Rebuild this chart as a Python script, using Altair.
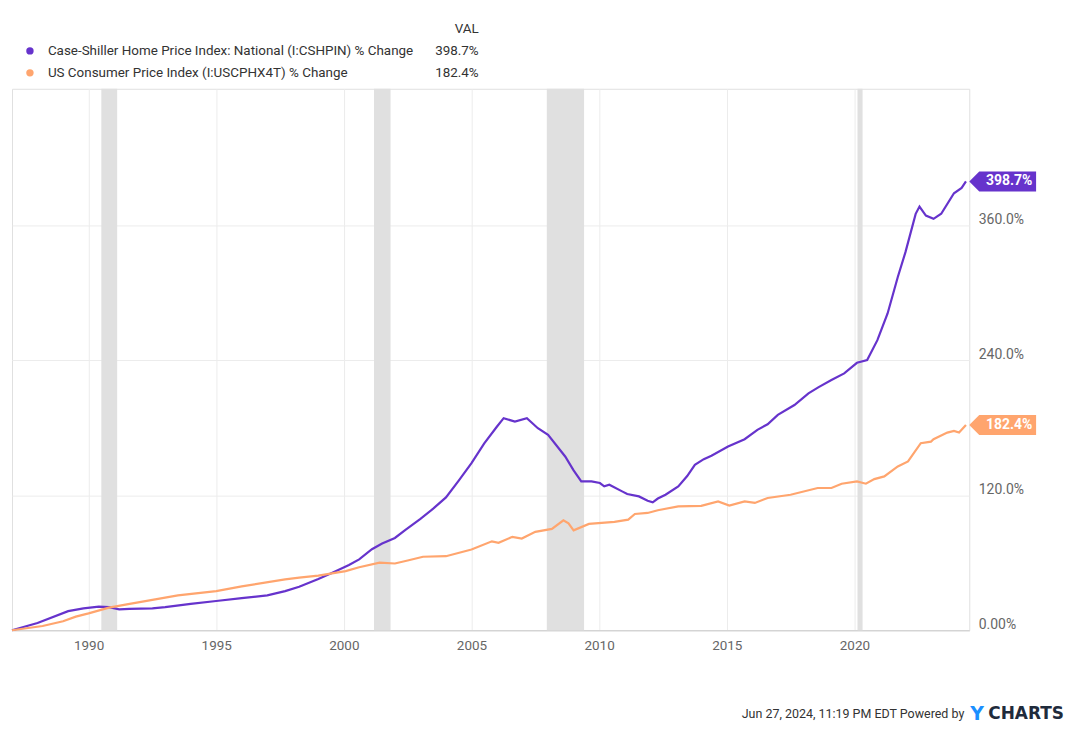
import altair as alt
import pandas as pd

# ---------------- data ----------------
cs_years = [1987.0, 1988.0, 1989.2, 1989.8, 1990.4, 1990.8, 1991.2, 1991.6, 1992.5, 1993.0,
            1994.0, 1995.0, 1996.0, 1997.0, 1997.7, 1998.25, 1999.0, 1999.55, 2000.2, 2000.6,
            2001.1, 2001.5, 2002.0, 2002.4, 2003.0, 2003.5, 2004.0, 2004.5, 2005.0, 2005.5,
            2006.0, 2006.26, 2006.7, 2007.17, 2007.6, 2008.0, 2008.67, 2009.0, 2009.3, 2009.7,
            2010.03, 2010.2, 2010.4, 2010.9, 2011.1, 2011.56, 2011.9, 2012.1, 2012.3, 2012.6,
            2013.1, 2013.45, 2013.75, 2014.1, 2014.4, 2015.05, 2015.7, 2016.2, 2016.6, 2017.0,
            2017.65, 2018.2, 2018.6, 2019.1, 2019.6, 2020.1, 2020.5, 2020.9, 2021.3, 2021.7,
            2022.0, 2022.4, 2022.55, 2022.8, 2023.1, 2023.4, 2023.9, 2024.2, 2024.37]
cs_vals = [0.0, 6.5, 17.0, 19.5, 21.0, 20.5, 18.6, 19.0, 19.5, 20.5,
           23.5, 26.0, 28.5, 31.0, 34.8, 38.7, 45.5, 51.1, 58.0, 63.0,
           72.0, 77.0, 82.0, 89.0, 99.0, 108.0, 118.0, 133.0, 148.5, 166.0,
           181.0, 188.4, 185.4, 188.4, 179.5, 173.6, 154.4, 142.0, 132.2, 132.2,
           130.8, 127.8, 129.3, 123.4, 121.0, 118.9, 115.0, 113.6, 117.0, 120.4,
           127.8, 137.0, 147.0, 152.0, 155.0, 163.2, 169.7, 178.0, 183.0, 191.3,
           200.1, 210.5, 216.0, 222.3, 228.2, 237.6, 240.0, 257.7, 281.4, 313.8,
           335.9, 369.9, 376.4, 368.4, 365.5, 370.0, 388.2, 392.9, 398.7]

cpi_years = [1987.0, 1988.2, 1989.0, 1989.5, 1990.0, 1990.8, 1991.5, 1992.5, 1993.5, 1995.0,
             1996.0, 1997.7, 1998.25, 1999.0, 2000.07, 2000.6, 2001.4, 2002.0, 2002.5, 2003.1,
             2004.0, 2005.0, 2005.8, 2006.06, 2006.6, 2006.97, 2007.5, 2008.15, 2008.6, 2008.8,
             2009.0, 2009.6, 2010.6, 2011.14, 2011.4, 2011.9, 2012.3, 2013.1, 2014.0, 2014.66,
             2015.1, 2015.7, 2016.1, 2016.6, 2017.5, 2018.56, 2019.1, 2019.5, 2020.1, 2020.45,
             2020.78, 2021.17, 2021.7, 2022.1, 2022.6, 2023.0, 2023.1, 2023.64, 2023.9, 2024.1,
             2024.37]
cpi_vals = [0.0, 3.8, 8.0, 12.1, 15.0, 20.1, 23.0, 27.0, 31.0, 34.8,
            39.0, 45.2, 46.7, 48.5, 52.5, 56.0, 60.0, 59.3, 62.0, 65.3,
            65.8, 71.7, 79.0, 77.7, 83.0, 81.5, 87.4, 90.0, 97.7, 95.0,
            88.8, 94.5, 96.3, 98.3, 103.3, 104.2, 106.6, 110.1, 110.5, 114.5,
            110.7, 114.5, 113.1, 117.5, 120.4, 126.4, 126.4, 130.2, 132.2, 130.2,
            134.3, 136.7, 145.5, 150.0, 166.2, 167.6, 169.7, 175.6, 177.1, 175.6,
            182.4]

series_names = ["Case-Shiller Home Price Index: National (I:CSHPIN) % Change",
                "US Consumer Price Index (I:USCPHX4T) % Change"]
series_last = ["398.7%", "182.4%"]
series_colors = ["#6633cc", "#ffa56e"]

rec_start = [1990.5, 2001.18, 2007.95, 2020.12]
rec_end = [1991.12, 2001.83, 2009.41, 2020.32]

x_ticks = [1990, 1995, 2000, 2005, 2010, 2015, 2020]
y_ticks = [0, 120, 240, 360]

footer_text = "Jun 27, 2024, 11:19 PM EDT Powered by"
logo_y = "Y"
logo_rest = "CHARTS"
header_text = "VAL"

# ---------------- tables ----------------
lines_df = pd.concat([
    pd.DataFrame({"year": cs_years, "val": cs_vals, "series": series_names[0]}),
    pd.DataFrame({"year": cpi_years, "val": cpi_vals, "series": series_names[1]}),
])
last_df = pd.DataFrame({
    "year": [cs_years[-1], cpi_years[-1]],
    "val": [cs_vals[-1], cpi_vals[-1]],
    "series": series_names,
    "label": series_last,
})
rec_df = pd.DataFrame({"start": rec_start, "end": rec_end})

W, H = 960, 543
FONT = "Roboto"

xs = alt.Scale(domain=[1987.0, 2024.5], nice=False, zero=False)
ys = alt.Scale(domain=[0, 481], nice=False)
cs = alt.Scale(domain=series_names, range=series_colors)

rec = alt.Chart(rec_df).mark_rect(color="#e0e0e0").encode(
    x=alt.X("start:Q", scale=xs,
            axis=alt.Axis(values=x_ticks, format="d", title=None, grid=True,
                          gridColor="#ececec", ticks=False, labelPadding=8,
                          labelFontSize=13.5, labelColor="#666666", labelFont=FONT,
                          domainColor="#cccccc")),
    x2="end:Q",
    y=alt.value(0),
    y2=alt.value(H),
)

lines = alt.Chart(lines_df).mark_line(strokeWidth=2.2).encode(
    x=alt.X("year:Q", scale=xs),
    y=alt.Y("val:Q", scale=ys,
            axis=alt.Axis(orient="right", values=y_ticks, title=None, grid=True,
                          gridColor="#ececec", ticks=False, domain=False,
                          labelAlign="left", labelBaseline="alphabetic",
                          labelOffset=-2,
                          labelPadding=9, labelFontSize=14, labelColor="#666666",
                          labelFont=FONT,
                          labelExpr="datum.value == 0 ? '0.00%' : format(datum.value, '.1f') + '%'")),
    color=alt.Color("series:N", scale=cs, legend=None),
)

tag_shape = "M0,0 L1,-1 L6.7,-1 L6.7,1 L1,1 Z"
tags = alt.Chart(last_df).mark_point(shape=tag_shape, filled=True, size=400,
                                     opacity=1, strokeWidth=0, clip=False).encode(
    x=alt.value(W),
    y=alt.Y("val:Q", scale=ys),
    color=alt.Color("series:N", scale=cs, legend=None),
)
tag_text = alt.Chart(last_df).mark_text(color="white", font=FONT, fontSize=14,
                                        fontWeight="bold", align="center",
                                        baseline="middle", clip=False).encode(
    x=alt.value(W + 40),
    y=alt.Y("val:Q", scale=ys),
    text="label:N",
)

layers = [rec, lines, tags, tag_text]

LF = 13.45
# header legend
layers.append(alt.Chart(pd.DataFrame({"t": [header_text]})).mark_text(
    font=FONT, fontSize=LF, color="#333333", align="right", baseline="middle").encode(
    x=alt.value(468), y=alt.value(-60), text="t:N"))
for i, (nm, lv, col) in enumerate(zip(series_names, series_last, series_colors)):
    yy = -38 + 22 * i
    d = pd.DataFrame({"name": [nm], "val": [lv]})
    layers.append(alt.Chart(d).mark_point(filled=True, size=55, color=col, opacity=1).encode(
        x=alt.value(18), y=alt.value(yy)))
    layers.append(alt.Chart(d).mark_text(font=FONT, fontSize=LF, color="#333333",
                                         align="left", baseline="middle").encode(
        x=alt.value(36), y=alt.value(yy), text="name:N"))
    layers.append(alt.Chart(d).mark_text(font=FONT, fontSize=LF, color="#333333",
                                         align="right", baseline="middle").encode(
        x=alt.value(468), y=alt.value(yy), text="val:N"))

# footer
layers.append(alt.Chart(pd.DataFrame({"t": [footer_text]})).mark_text(
    font=FONT, fontSize=12.5, color="#333333", align="right", baseline="middle").encode(
    x=alt.value(955), y=alt.value(627), text="t:N"))
layers.append(alt.Chart(pd.DataFrame({"t": [logo_y]})).mark_text(
    font="DejaVu Sans", fontSize=19, fontWeight="bold", color="#1a8fff", align="left",
    baseline="middle").encode(x=alt.value(961), y=alt.value(627), text="t:N"))
layers.append(alt.Chart(pd.DataFrame({"t": [logo_rest]})).mark_text(
    font="DejaVu Sans", fontSize=17, fontWeight="bold", color="#1f2b3c", align="left",
    baseline="middle").encode(x=alt.value(979), y=alt.value(627), text="t:N"))

chart = alt.layer(*layers).properties(
    width=W, height=H,
    autosize=alt.AutoSizeParams(type="none"),
    padding={"left": 4, "top": 80, "right": 100, "bottom": 100},
    background="white",
).configure_view(stroke="#e0e0e0").configure_axis(labelFont=FONT)

chart.save("out.html", embed_options={"renderer": "svg", "actions": False})
